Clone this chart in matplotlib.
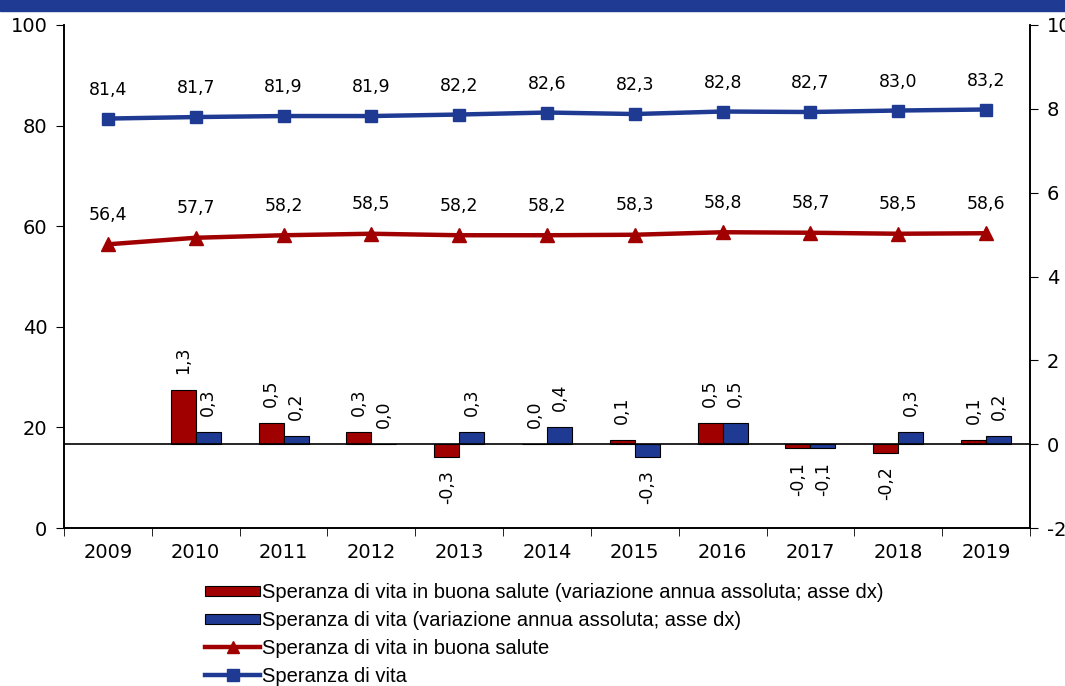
import numpy as np
import matplotlib
matplotlib.use("Agg")
import matplotlib.pyplot as plt
from matplotlib.patches import Rectangle
from matplotlib.legend_handler import HandlerPatch

years = ["2009", "2010", "2011", "2012", "2013", "2014", "2015", "2016", "2017", "2018", "2019"]
speranza_vita = [81.4, 81.7, 81.9, 81.9, 82.2, 82.6, 82.3, 82.8, 82.7, 83.0, 83.2]
speranza_buona = [56.4, 57.7, 58.2, 58.5, 58.2, 58.2, 58.3, 58.8, 58.7, 58.5, 58.6]
var_buona = [None, 1.3, 0.5, 0.3, -0.3, 0.0, 0.1, 0.5, -0.1, -0.2, 0.1]
var_vita = [None, 0.3, 0.2, 0.0, 0.3, 0.4, -0.3, 0.5, -0.1, 0.3, 0.2]

RED = "#A00000"
BLUE = "#1F3A93"

plt.rcParams['font.family'] = ['DejaVu Sans']
plt.rcParams['axes.unicode_minus'] = False

fig = plt.figure(figsize=(10.65, 6.86), dpi=100)
ax = fig.add_axes([64/1065, 1-528/686, 966/1065, 503/686])
ax2 = ax.twinx()

x = np.arange(len(years))

def fmt(v):
    return f"{v:.1f}".replace(".", ",")

# bars on right axis
w = 0.285
for i in range(len(years)):
    for val, off, col in [(var_buona[i], -w/2, RED), (var_vita[i], w/2, BLUE)]:
        if val is None:
            continue
        ax2.bar(x[i] + off, val, width=w, color=col, edgecolor="black", linewidth=0.8, zorder=2)
        if val >= 0:
            ax2.text(x[i] + off, val + 0.38, fmt(val), rotation=90, ha="center", va="bottom", fontsize=12.5)
        else:
            ax2.text(x[i] + off, val - 0.33, fmt(val), rotation=90, ha="center", va="top", fontsize=12.5)
ax2.axhline(0, color="black", linewidth=1.2, zorder=3)

# lines on left axis
ax.plot(x, speranza_vita, color=BLUE, linewidth=3.2, marker="s", markersize=9, zorder=5)
ax.plot(x, speranza_buona, color=RED, linewidth=3.2, marker="^", markersize=9.5, zorder=5)
for i in range(len(years)):
    ax.text(x[i], speranza_vita[i] + 5.7, fmt(speranza_vita[i]), ha="center", va="center", fontsize=12.5)
    ax.text(x[i], speranza_buona[i] + 5.9, fmt(speranza_buona[i]), ha="center", va="center", fontsize=12.5)

ax.set_zorder(ax2.get_zorder() + 1)
ax.patch.set_visible(False)

ax.set_xlim(-0.5, 10.5)
ax.set_ylim(0, 100)
ax2.set_ylim(-2, 10)
ax.set_yticks([0, 20, 40, 60, 80, 100])
ax2.set_yticks([-2, 0, 2, 4, 6, 8, 10])
ax.set_xticks(x)
ax.set_xticklabels(years)
ax.set_xticks(np.arange(-0.5, 11, 1), minor=True)
ax.tick_params(axis="x", which="major", length=0, labelsize=14, pad=11)
ax.tick_params(axis="x", which="minor", length=6, direction="out")
ax.tick_params(axis="y", labelsize=14, length=6, direction="out", pad=6)
ax2.tick_params(axis="y", labelsize=14, length=6, direction="out", pad=6)

for a in (ax, ax2):
    a.spines["top"].set_visible(False)
    for s in ("left", "right", "bottom"):
        a.spines[s].set_linewidth(1.2)

# header strip
fig.patches.append(Rectangle((0, 1-11/686), 1, 11/686, transform=fig.transFigure,
                             color=BLUE, zorder=10))

# legend
def flat_patch(legend, orig_handle, xdescent, ydescent, width, height, fontsize):
    return Rectangle((-xdescent, -ydescent + height*0.15), width, height*0.7)

handles = [
    Rectangle((0, 0), 1, 1, facecolor=RED, edgecolor="black", linewidth=0.8),
    Rectangle((0, 0), 1, 1, facecolor=BLUE, edgecolor="black", linewidth=0.8),
    plt.Line2D([], [], color=RED, linewidth=3.2, marker="^", markersize=9),
    plt.Line2D([], [], color=BLUE, linewidth=3.2, marker="s", markersize=8),
]
labels = [
    "Speranza di vita in buona salute (variazione annua assoluta; asse dx)",
    "Speranza di vita (variazione annua assoluta; asse dx)",
    "Speranza di vita in buona salute",
    "Speranza di vita",
]
fig.legend(handles, labels, loc="upper left", bbox_to_anchor=(205/1065, 1-583/686),
           frameon=False, handlelength=2.75, handletextpad=0.08,
           labelspacing=0.44, borderpad=0, borderaxespad=0,
           handler_map={Rectangle: HandlerPatch(patch_func=flat_patch)},
           prop={'family': ['Liberation Sans'], 'size': 14.5})

fig.savefig("out.png", dpi=100)
